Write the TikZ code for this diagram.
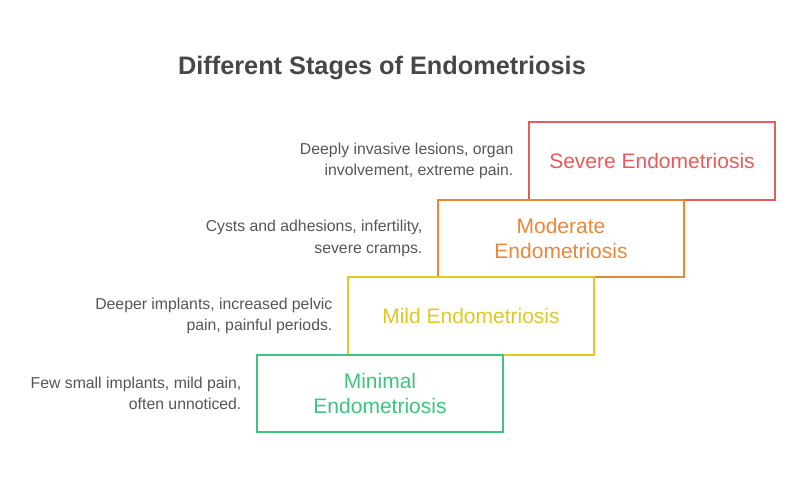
\documentclass[tikz,border=0pt]{standalone}
\usepackage{fontspec}
\setmainfont{Liberation Sans}
\usetikzlibrary{positioning}
\definecolor{severecol}{HTML}{E85B5B}
\definecolor{moderatecol}{HTML}{E8893A}
\definecolor{mildcol}{HTML}{E0C826}
\definecolor{minimalcol}{HTML}{3EC47F}
\definecolor{notegray}{HTML}{555555}
\definecolor{titlegray}{HTML}{474747}

\begin{document}
\begin{tikzpicture}
  [x=1pt, y=-1pt,
   stage/.style={draw, fill=white, line width=1.8pt, minimum width=246pt,
     minimum height=77.5pt, align=center, font=\fontsize{21}{25}\selectfont},
   note/.style={align=right, inner sep=0pt, text=notegray,
     font=\fontsize{15.8}{21.5}\selectfont}]
  \useasboundingbox (0, 0) rectangle (800, 484);
  \node[font=\bfseries\fontsize{25.3}{30}\selectfont, text=titlegray] (title) at (382, 68)
    {Different Stages of Endometriosis};
  % stages, top step first so the lower ones lie over it
  \node[stage, draw=severecol, text=severecol] (severe) at (652, 161) {Severe Endometriosis};
  \node[stage, draw=moderatecol, text=moderatecol] (moderate) at (561, 238.5) {Moderate\\Endometriosis};
  \node[stage, draw=mildcol, text=mildcol] (mild) at (471, 316) {Mild Endometriosis};
  \node[stage, draw=minimalcol, text=minimalcol] (minimal) at (380, 393.5) {Minimal\\Endometriosis};
  % notes
  \node[note, left=14.5pt of severe] (severe note) {Deeply invasive lesions, organ\\involvement, extreme pain.};
  \node[note, left=14.5pt of moderate] (moderate note) {Cysts and adhesions, infertility,\\severe cramps.};
  \node[note, left=14.5pt of mild] (mild note) {Deeper implants, increased pelvic\\pain, painful periods.};
  \node[note, left=14.5pt of minimal] (minimal note) {Few small implants, mild pain,\\often unnoticed.};
\end{tikzpicture}
\end{document}
